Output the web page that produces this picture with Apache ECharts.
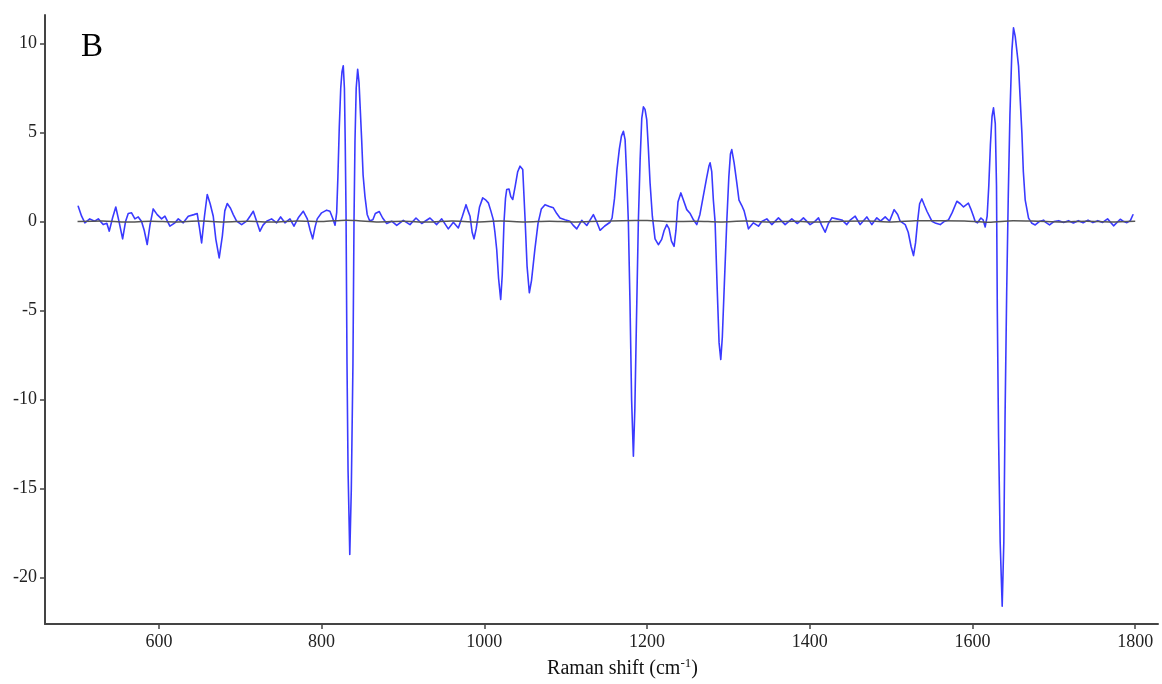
<!DOCTYPE html>
<html>
<head>
<meta charset="utf-8">
<script src="https://cdn.jsdelivr.net/npm/echarts@6/dist/echarts.min.js"></script>
<style>
html,body{margin:0;padding:0;background:#fff;}
#chart{width:1162px;height:684px;}
</style>
</head>
<body>
<div id="chart"></div>
<script>
// Raman shift (cm-1) and difference intensity (blue trace)
var ramanShift = [
500.8,505,509,515,521,525.5,531.5,536,539,543,547,551,555.4,559,562.3,566.4,570.5,574.6,578.7,582,585.6,589,593,597.9,
603.3,607.4,613.5,619.7,623.8,629.9,636.1,643,647.1,650,652.5,656,659.4,663,666.8,670,674.1,678,681,684,688,691.4,695.5,
701.7,707.8,712,716,720.1,724.2,728,732.4,738.5,744.7,749.6,754.9,761.1,766,771.3,777.4,782.4,786,789,792,794.6,
800,806.2,810.2,813.5,816.5,818.5,820,821.7,823.5,825,826.6,828,829,830,831.2,832.5,834.6,836.5,838.5,839.8,841,842.5,844.3,
846,847.5,849.2,851,853.3,856,859,863,866,870.9,875,880,886.1,892.3,900.4,908.6,916,923,933.2,941.4,947.6,955.7,961.9,968,
973,977.5,980,982.4,985,987.3,990,994,998,1002,1004.9,1008,1011,1013,1015.2,1017.5,1020.1,1022,1024.2,1026,1027.5,1030.3,
1032.5,1034.9,1038,1041,1043.9,1047.2,1050,1052.5,1055.3,1058,1062,1066,1070,1074.6,1080,1084.8,1089,1093,1099,1105.3,1109,
1113.6,1119.7,1125.9,1134,1138,1142.2,1148,1154.5,1157,1160,1163,1166,1168.5,1170.9,1173,1175,1177,1179,1181,1183.2,1185,
1187,1189.3,1191.5,1193.5,1195.5,1197.5,1199.6,1201.5,1203.7,1206.5,1209.8,1213.9,1218,1221,1224.2,1227,1230,1233.2,1235.5,
1238,1241.5,1244,1248.8,1253,1257,1261.1,1265,1269,1273,1276,1277.5,1279.5,1281.5,1283.6,1286,1288.5,1290.6,1292.5,1295,1298,
1300.5,1302.5,1304.1,1307,1310.3,1313,1316.4,1319.3,1322,1324.6,1330.7,1336.9,1341,1347.2,1353.3,1361.5,1369.7,1377.9,1384.8,
1392.2,1400.4,1406,1410.7,1414.5,1418.9,1423,1427.1,1433,1439.4,1445.5,1450,1455.8,1461.9,1470.1,1476.3,1482.4,1487,1492.7,
1498,1503.7,1508,1511.1,1517.3,1521,1524.5,1527.5,1530,1532.5,1535,1537.8,1541,1544,1550.1,1555,1560.3,1565,1570.5,1575,
1580.8,1585,1589,1595,1598,1601.2,1603.3,1606.1,1610.3,1613,1615.6,1618,1620,1622,1624,1625.8,1628,1629.5,1630.5,1632,1634,
1636.5,1638.5,1640,1642,1644,1646,1648.4,1650.4,1652.5,1654.5,1656.6,1658.5,1660.7,1662.5,1664.8,1668.9,1673,1677.1,1682,
1687.3,1690,1694.7,1700,1706,1712,1718,1724,1730,1736,1742,1748,1754,1760,1766,1773.4,1781.6,1786,1789.8,1794,1797.2
];
var intensityDiff = [
0.86,0.3,-0.07,0.15,0.02,0.15,-0.17,-0.1,-0.54,0.2,0.82,0,-0.97,0,0.45,0.49,0.15,0.26,0,-0.5,-1.29,-0.2,0.71,0.39,
0.15,0.3,-0.26,-0.07,0.15,-0.07,0.3,0.39,0.45,-0.4,-1.2,0.3,1.52,1.0,0.3,-1.0,-2.04,-0.8,0.6,1.01,0.75,0.39,0.02,
-0.17,0.02,0.3,0.58,0.02,-0.54,-0.2,0.02,0.15,-0.07,0.26,-0.07,0.15,-0.26,0.21,0.58,0.15,-0.5,-0.97,-0.3,0.15,
0.49,0.64,0.58,0.2,-0.2,0.5,2.5,5.3,7.5,8.4,8.75,7.5,4.5,0.5,-8,-14,-18.7,-15,-8,0,4.5,7.5,8.55,
7.8,6.3,4.6,2.6,1.4,0.4,0.05,0.1,0.45,0.56,0.2,-0.11,0.02,-0.22,0.07,-0.17,0.2,-0.11,0.2,-0.17,0.15,-0.41,-0.04,-0.36,
0.3,0.95,0.6,0.3,-0.6,-0.97,-0.4,0.8,1.33,1.2,1.05,0.6,0.11,-0.6,-1.57,-3.2,-4.38,-3.0,0,1.3,1.8,1.83,
1.4,1.24,2.0,2.8,3.11,2.92,0.2,-2.5,-4.0,-3.3,-1.6,-0.1,0.7,0.95,0.85,0.77,0.45,0.2,0.1,0.02,-0.2,
-0.41,0.07,-0.22,0.39,0,-0.49,-0.25,-0.04,0.2,1.3,2.9,4.1,4.8,5.07,4.6,2.5,0,-4.5,-10,-13.18,-10.5,
-5.5,0,3.5,5.8,6.44,6.3,5.73,4.2,2.17,0.3,-0.97,-1.3,-1.0,-0.5,-0.17,-0.4,-1.1,-1.39,-0.5,
1.1,1.61,1.3,0.67,0.45,0.1,-0.17,0.4,1.4,2.4,3.1,3.3,2.8,1.2,0,-3.5,-6.8,-7.75,-6.5,-3.5,0,
2.5,3.8,4.04,3.3,2.17,1.2,0.9,0.6,0.1,-0.41,-0.07,-0.26,0,0.15,-0.17,0.21,-0.17,0.15,-0.11,
0.21,-0.17,0,0.21,-0.2,-0.6,-0.1,0.21,0.15,0.09,-0.17,0.1,0.3,-0.17,0.26,-0.17,0.21,0.02,0.26,
0.02,0.67,0.4,0.02,-0.17,-0.6,-1.4,-1.91,-1.2,0,1.0,1.27,0.9,0.58,0.02,-0.1,-0.17,0,0.09,0.5,
1.14,1.0,0.82,1.03,0.7,0.3,0,-0.07,0.2,0.1,-0.3,0.3,2.0,4.3,5.9,6.39,5.5,2.0,-5,-12,-18,
-21.6,-18,-11,-4,1.5,6.0,9.6,10.88,10.4,9.6,8.73,7.0,4.98,2.8,1.2,0.19,-0.1,-0.19,0,
0.08,-0.05,-0.19,0,0.05,-0.05,0.05,-0.08,0.05,-0.07,0.08,-0.06,0.05,-0.05,0.15,-0.24,0.13,0,-0.06,0.05,0.38
];
// near-zero reference trace (dark gray)
var baseShift = [500,530,560,590,620,650,680,710,740,770,800,830,845,870,900,930,960,990,1020,1050,1080,1110,1140,1170,1200,1230,1260,1290,1320,1350,1380,1410,1440,1470,1500,1530,1560,1590,1620,1650,1680,1710,1740,1770,1800];
var baseValue = [0,0.03,-0.03,0.02,-0.02,0.03,-0.02,0.02,-0.03,0.03,0,0.08,0.05,-0.02,0.02,-0.03,0.03,-0.02,0.03,-0.02,0.02,-0.02,0.02,0.05,0.06,0,0.02,-0.02,0.03,-0.02,0.02,-0.03,0.02,0.03,-0.02,0.04,0.05,0.03,-0.04,0.05,0.02,-0.02,0.02,-0.02,0.02];
var xTicks = [600,800,1000,1200,1400,1600,1800];
var yTicks = [-20,-15,-10,-5,0,5,10];

var blueData = ramanShift.map(function(x,i){return [x,intensityDiff[i]];});
var baseData = baseShift.map(function(x,i){return [x,baseValue[i]];});

var serif = '"Liberation Serif","DejaVu Serif",serif';
var plain = function(v){return String(v);};
var chart = echarts.init(document.getElementById('chart'), null, {renderer:'canvas'});
chart.setOption({
  backgroundColor:'#fff',
  animation:false,
  title:{text:'B',left:76,top:26,textStyle:{fontFamily:serif,fontSize:33,fontWeight:'normal',color:'#000'}},
  grid:{left:45,right:4,top:15,bottom:60},
  xAxis:{
    type:'value',min:460,max:1828,
    splitLine:{show:false},
    axisLine:{onZero:false,lineStyle:{color:'#444',width:2}},
    axisTick:{customValues:xTicks,length:5,lineStyle:{color:'#444',width:1.5}},
    axisLabel:{customValues:xTicks,formatter:plain,margin:9,fontFamily:serif,fontSize:18,color:'#222'},
    name:'{a|Raman shift (cm}{s|-1}{a|)}',
    nameLocation:'middle',nameGap:33,
    nameTextStyle:{padding:[0,0,0,42],rich:{
      a:{fontFamily:serif,fontSize:20,color:'#111',lineHeight:24},
      s:{fontFamily:serif,fontSize:13,color:'#111',verticalAlign:'top',lineHeight:24,padding:[0,0,8,0]}
    }}
  },
  yAxis:{
    type:'value',min:-22.6,max:11.6,
    splitLine:{show:false},
    axisLine:{show:true,onZero:false,lineStyle:{color:'#444',width:2}},
    axisTick:{show:true,customValues:yTicks,length:5,lineStyle:{color:'#444',width:1.5}},
    axisLabel:{customValues:yTicks,formatter:plain,margin:8,fontFamily:serif,fontSize:18,color:'#222'}
  },
  series:[
    {type:'line',data:blueData,showSymbol:false,smooth:false,sampling:'none',
     lineStyle:{color:'#3a3aff',width:1.6,join:'round',cap:'round'},z:2},
    {type:'line',data:baseData,showSymbol:false,smooth:0.3,
     lineStyle:{color:'#555',width:1.5},z:3}
  ]
});
</script>
</body>
</html>
